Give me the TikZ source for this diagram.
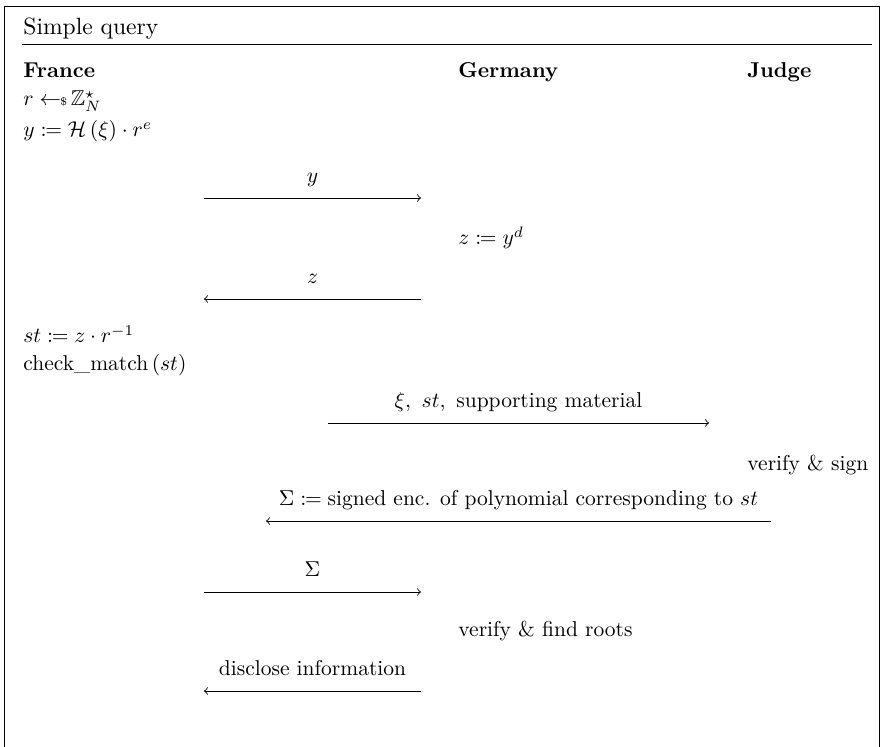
\documentclass[tikz,border=0pt]{standalone}
\usepackage{amsmath, amsfonts}
\usepackage{amssymb}
\usepackage{mathtools}
\usepackage{tikz}
\usetikzlibrary{positioning, arrows, calc}

\tikzset{
  txt/.style={anchor=base west, inner sep=0pt},
  party/.style={txt, font=\bfseries},
  msg/.style={->},
  msglabel/.style={anchor=base, inner sep=0pt, yshift=7pt}
}

\begin{document}
\begin{tikzpicture}[x=0.4651pt, y=-0.4651pt]
\useasboundingbox (0,0) rectangle (880,747);
\draw (4,747) -- (4,6) -- (879,6) -- (879,747); % frame, runs off the bottom
\node[txt, font=\fontsize{10.95}{13.6}\selectfont] (title) at (23,35) {Simple query};
\draw (22,44) -- (872,44);
% the three parties
\node[party] (france) at (23,78) {France};
\node[party] (germany) at (458,78) {Germany};
\node[party] (judge) at (747,78) {Judge};
% local steps
\node[txt] (sample) at (23,106) {$r \leftarrow\!\!\mbox{\tiny\$}\,\mathbb{Z}_N^{\star}$};
\node[txt] (blind) at (23,137) {$y \coloneqq \mathcal{H}\left(\xi\right) \cdot r^{e}$};
\node[txt] (gsign) at (458,245) {$z \coloneqq y^{d}$};
\node[txt] (unblind) at (23,343) {$st \coloneqq z \cdot r^{-1}$};
\node[txt] (check) at (23,371) {$\text{check\_match}\left(st\right)$};
\node[txt] (jsign) at (747,471) {verify \& sign};
\node[txt] (roots) at (458,636) {verify \& find roots};
% messages: number / height / from / to / label
\foreach \n/\ya/\xa/\xb/\lab in {1/198/204/421/{$y$},
    2/299/421/204/{$z$},
    3/423/328/709/{$\xi,\ st,\ \text{supporting material}$},
    4/521/771/266/{$\Sigma \coloneqq \text{signed enc. of polynomial corresponding to } st$},
    5/592/204/421/{$\Sigma$},
    6/691/421/204/{disclose information}}
{
  \coordinate (from\n) at (\xa,\ya);
  \coordinate (to\n) at (\xb,\ya);
  \draw[msg] (from\n) -- node[msglabel] (lab\n) {\lab} (to\n);
}
\end{tikzpicture}
\end{document}
